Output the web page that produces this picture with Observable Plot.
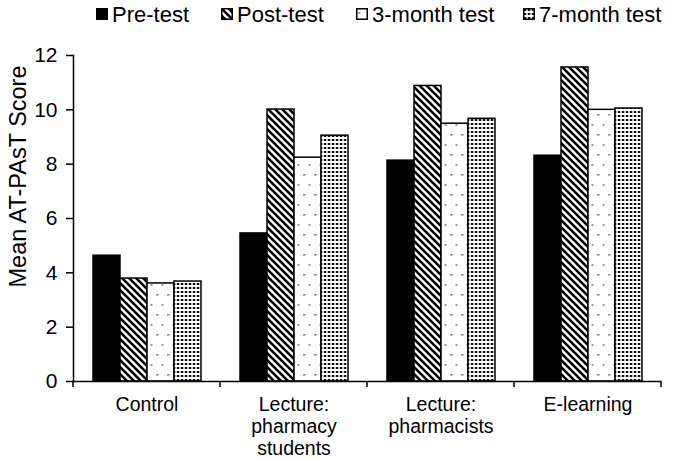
<!DOCTYPE html>
<html>
<head>
<meta charset="utf-8">
<script src="https://cdn.jsdelivr.net/npm/d3@7"></script>
<script src="https://cdn.jsdelivr.net/npm/@observablehq/plot@0.6"></script>
<style>
  body { margin: 0; background: #fff; }
  #legend { position: relative; width: 674px; height: 30px; font-family: "Liberation Sans", Arial, sans-serif; font-size: 22px; color: #000; }
  #legend .item { position: absolute; top: 2px; height: 26px; line-height: 26px; white-space: nowrap; }
  #legend svg { vertical-align: middle; margin-right: 4px; position: relative; top: -2px; }
</style>
</head>
<body>
<div id="legend"></div>
<div id="chart"></div>
<script>
const categories = ["Control", "Lecture: pharmacy students", "Lecture: pharmacists", "E-learning"];
const tickLabels = ["Control", "Lecture:\npharmacy\nstudents", "Lecture:\npharmacists", "E-learning"];
const tests = ["Pre-test", "Post-test", "3-month test", "7-month test"];
const preTest = [4.63, 5.45, 8.13, 8.31];
const postTest = [3.79, 10.01, 10.88, 11.56];
const month3Test = [3.61, 8.24, 9.49, 10.0];
const month7Test = [3.68, 9.05, 9.67, 10.05];
const yTicks = [0, 2, 4, 6, 8, 10, 12];
const yTitle = "Mean AT-PAsT Score";
const patternIds = ["pat-pre", "pat-post", "pat-m3", "pat-m7"];
const legendLeft = [96, 221, 356, 523];

const seriesValues = [preTest, postTest, month3Test, month7Test];
const data = [];
categories.forEach((c, i) => tests.forEach((t, j) => data.push({group: c, test: t, value: seriesValues[j][i]})));

const plot = Plot.plot({
  width: 674,
  height: 429,
  marginTop: 25,
  marginBottom: 78,
  marginLeft: 73,
  marginRight: 13,
  style: {fontFamily: "Liberation Sans, Arial, sans-serif", color: "#000", background: "#fff"},
  fx: {domain: categories, padding: 0, axis: null},
  x: {domain: tests, paddingInner: 0, paddingOuter: 0.65, axis: null},
  y: {domain: [0, 12], axis: null},
  color: {type: "ordinal", domain: tests, range: patternIds.map(id => `url(#${id})`)},
  marks: [
    Plot.barY(data, {fx: "group", x: "test", y: "value", fill: "test", stroke: "#000", strokeWidth: 1.5, inset: 0}),
    Plot.ruleY([0], {stroke: "#000", strokeWidth: 1.5}),
    Plot.frame({anchor: "left", facetAnchor: "left", stroke: "#000", strokeWidth: 1.5}),
    Plot.axisY({ticks: yTicks, tickSize: 7, tickPadding: 9, fontSize: 21, label: null, stroke: "#000", strokeWidth: 1.5}),
    Plot.axisFx({anchor: "bottom", tickSize: 0, tickPadding: 14, fontSize: 19.5, label: null, lineHeight: 1.12,
      tickFormat: d => tickLabels[categories.indexOf(d)]}),
    Plot.text([yTitle], {facetAnchor: "left", frameAnchor: "left", textAnchor: "middle", lineAnchor: "middle",
      rotate: -90, dx: -55, dy: -42, fontSize: 23.5, fill: "#000"})
  ]
});

function addPatterns(svg) {
  const defs = svg.append("defs");
  defs.append("pattern").attr("id", "pat-pre").attr("patternUnits", "userSpaceOnUse").attr("width", 4).attr("height", 4)
    .append("rect").attr("width", 4).attr("height", 4).attr("fill", "#000");
  const post = defs.append("pattern").attr("id", "pat-post").attr("patternUnits", "userSpaceOnUse").attr("width", 7).attr("height", 7);
  post.append("rect").attr("width", 7).attr("height", 7).attr("fill", "#fff");
  post.append("path").attr("d", "M-1,-1 L8,8 M-4.5,2.5 L1.5,8.5 M5.5,-1.5 L8.5,1.5 M-1.5,5.5 L1.5,8.5")
    .attr("stroke", "#000").attr("stroke-width", 2.6).attr("fill", "none");
  const m3 = defs.append("pattern").attr("id", "pat-m3").attr("patternUnits", "userSpaceOnUse").attr("width", 11).attr("height", 20);
  m3.append("rect").attr("width", 11).attr("height", 20).attr("fill", "#fff");
  m3.append("rect").attr("x", 2).attr("y", 4).attr("width", 2.5).attr("height", 1.6).attr("fill", "#8a8a8a");
  m3.append("rect").attr("x", 7.5).attr("y", 14).attr("width", 2).attr("height", 2).attr("fill", "#9a9a9a");
  const m7 = defs.append("pattern").attr("id", "pat-m7").attr("patternUnits", "userSpaceOnUse").attr("width", 4).attr("height", 4);
  m7.append("rect").attr("width", 4).attr("height", 4).attr("fill", "#fff");
  m7.append("rect").attr("x", 0.8).attr("y", 1).attr("width", 2.5).attr("height", 2).attr("fill", "#111");
}

const svg = d3.select(plot);
addPatterns(svg);

// category-boundary ticks on the x axis (Excel-style), from the fx scale
const fx = plot.scale("fx");
const y = plot.scale("y");
const y0 = y.apply(0);
const bounds = categories.map(c => fx.apply(c)).concat([fx.apply(categories[categories.length - 1]) + fx.bandwidth]);
svg.append("g").selectAll("line").data(bounds).join("line")
  .attr("x1", d => d).attr("x2", d => d).attr("y1", y0).attr("y2", y0 + 6)
  .attr("stroke", "#000").attr("stroke-width", 1.5);

document.getElementById("chart").appendChild(plot);

// legend
const legend = d3.select("#legend");
tests.forEach((t, j) => {
  const item = legend.append("div").attr("class", "item").style("left", legendLeft[j] + "px");
  const s = item.append("svg").attr("width", 12).attr("height", 12);
  s.append("rect").attr("x", 0.75).attr("y", 0.75).attr("width", 10.5).attr("height", 10.5)
    .attr("fill", `url(#${patternIds[j]})`).attr("stroke", "#000").attr("stroke-width", 1.5);
  item.append("span").text(t);
});
</script>
</body>
</html>
